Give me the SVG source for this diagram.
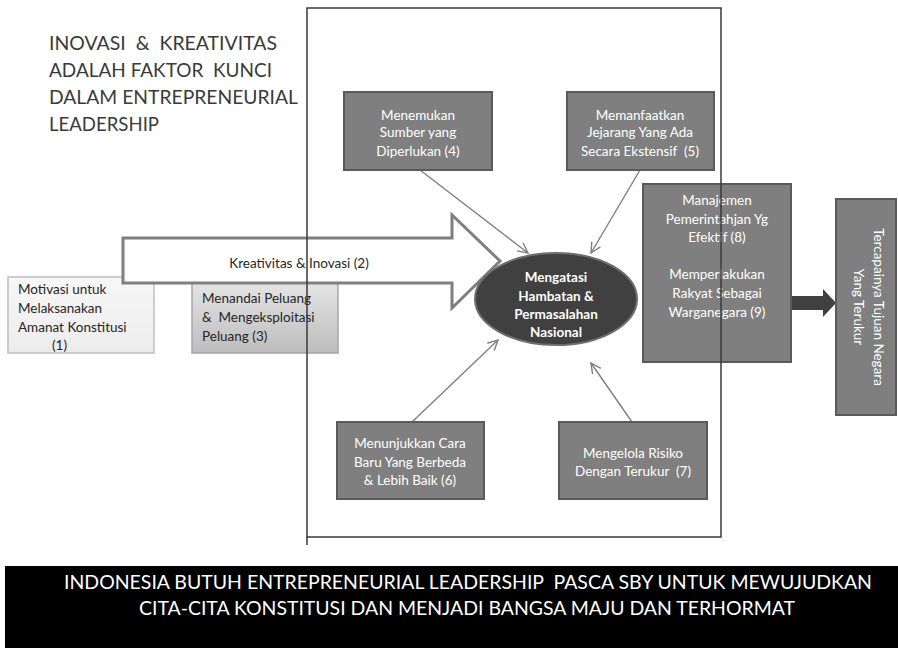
<svg xmlns="http://www.w3.org/2000/svg" width="898" height="648" viewBox="0 0 898 648">
  <defs>
    <style>
      .t { font-family: Lato, "Open Sans", "Liberation Sans", sans-serif; }
      .title { font-size: 19.5px; fill: #3a3a3a; }
      .w { font-size: 13.5px; fill: #ffffff; text-anchor: middle; }
      .wb { font-size: 13.5px; fill: #ffffff; text-anchor: middle; font-weight: bold; }
      .d { font-size: 13.5px; fill: #262626; }
      .dark { fill: #7f7f7f; stroke: #5a5a5a; stroke-width: 2; }
      .conn { stroke: #7f7f7f; stroke-width: 1.4; fill: none; marker-end: url(#open); }
      .banner { font-size: 19.5px; fill: #ffffff; text-anchor: middle; }
    </style>
    <marker id="open" markerUnits="userSpaceOnUse" markerWidth="14" markerHeight="14" refX="11" refY="6" orient="auto">
      <path d="M1,1 L11,6 L1,11" fill="none" stroke="#7f7f7f" stroke-width="1.4"/>
    </marker>
    <linearGradient id="g1" x1="0" y1="0" x2="0" y2="1">
      <stop offset="0" stop-color="#f7f7f7"/>
      <stop offset="1" stop-color="#ececec"/>
    </linearGradient>
    <linearGradient id="g3" x1="0" y1="0" x2="0" y2="1">
      <stop offset="0" stop-color="#e6e6e6"/>
      <stop offset="1" stop-color="#bdbdbd"/>
    </linearGradient>
  </defs>

  <rect width="898" height="648" fill="#ffffff"/>

  <!-- heading at top left -->
  <g id="title" class="t title">
    <text xml:space="preserve" x="49" y="50" textLength="228" lengthAdjust="spacingAndGlyphs">INOVASI  &amp;  KREATIVITAS</text>
    <text xml:space="preserve" x="49" y="77" textLength="223" lengthAdjust="spacingAndGlyphs">ADALAH FAKTOR  KUNCI</text>
    <text x="49" y="104" textLength="249" lengthAdjust="spacingAndGlyphs">DALAM ENTREPRENEURIAL</text>
    <text x="49" y="131" textLength="110" lengthAdjust="spacingAndGlyphs">LEADERSHIP</text>
  </g>

  <!-- (1) motivation -->
  <g id="n1">
    <rect x="8" y="277" width="146" height="76" fill="url(#g1)" stroke="#bfbfbf" stroke-width="1.5"/>
    <g class="t d">
      <text x="18" y="294">Motivasi untuk</text>
      <text x="18" y="313">Melaksanakan</text>
      <text x="18" y="332">Amanat Konstitusi</text>
      <text x="52" y="350">(1)</text>
    </g>
  </g>

  <!-- (3) opportunities -->
  <g id="n3">
    <rect x="192" y="280" width="146" height="73" fill="url(#g3)" stroke="#a6a6a6" stroke-width="1.5"/>
    <g class="t d">
      <text x="202" y="303">Menandai Peluang</text>
      <text xml:space="preserve" x="202" y="322">&amp;  Mengeksploitasi</text>
      <text x="202" y="341">Peluang (3)</text>
    </g>
  </g>

  <!-- (2) block arrow -->
  <g id="n2">
    <polygon points="123,238 452,238 452,215 500,261 452,308 452,283 123,283" fill="#ffffff" stroke="#7f7f7f" stroke-width="3" stroke-linejoin="miter"/>
    <text class="t" x="299" y="268" font-size="13.5" fill="#262626" text-anchor="middle">Kreativitas &amp; Inovasi (2)</text>
  </g>

  <!-- connectors -->
  <g id="connectors">
    <line class="conn" x1="420" y1="170" x2="528" y2="253"/>
    <line class="conn" x1="640" y1="170" x2="591" y2="253"/>
    <line class="conn" x1="412" y1="422" x2="498" y2="340"/>
    <line class="conn" x1="632" y1="422" x2="591" y2="363"/>
    <polygon points="791,296 823,296 823,289 836,303 823,317 823,310 791,310" fill="#404040"/>
  </g>

  <!-- (4) -->
  <g id="n4">
    <rect class="dark" x="344" y="92" width="148" height="78"/>
    <g class="t w">
      <text x="418" y="120">Menemukan</text>
      <text x="418" y="137">Sumber yang</text>
      <text x="418" y="156">Diperlukan (4)</text>
    </g>
  </g>

  <!-- (5) -->
  <g id="n5">
    <rect class="dark" x="567" y="92" width="147" height="78"/>
    <g class="t w">
      <text x="640" y="120">Memanfaatkan</text>
      <text x="640" y="137">Jejarang Yang Ada</text>
      <text xml:space="preserve" x="640" y="156">Secara Ekstensif  (5)</text>
    </g>
  </g>

  <!-- centre ellipse -->
  <g id="core">
    <ellipse cx="556" cy="299" rx="81" ry="46" fill="#404040" stroke="#6e6e6e" stroke-width="2"/>
    <g class="t wb">
      <text x="556" y="282">Mengatasi</text>
      <text x="556" y="301">Hambatan &amp;</text>
      <text x="556" y="319">Permasalahan</text>
      <text x="556" y="337">Nasional</text>
    </g>
  </g>

  <!-- (8) and (9) -->
  <g id="n8">
    <rect class="dark" x="643" y="184" width="148" height="178"/>
    <g class="t w">
      <text x="717" y="205">Manajemen</text>
      <text x="717" y="224">Pemerintahjan Yg</text>
      <text x="717" y="242">Efektif (8)</text>
      <text x="717" y="279">Memperlakukan</text>
      <text x="717" y="298">Rakyat Sebagai</text>
      <text x="717" y="317">Warganegara (9)</text>
    </g>
  </g>

  <!-- goal -->
  <g id="goal">
    <rect class="dark" x="836" y="199" width="60" height="216"/>
    <g class="t w">
      <text transform="translate(879,307) rotate(90)" x="0" y="5">Tercapainya Tujuan Negara</text>
      <text transform="translate(859,307) rotate(90)" x="0" y="5">Yang Terukur</text>
    </g>
  </g>

  <!-- (6) -->
  <g id="n6">
    <rect class="dark" x="337" y="422" width="147" height="77"/>
    <g class="t w">
      <text x="410" y="448">Menunjukkan Cara</text>
      <text x="410" y="467">Baru Yang Berbeda</text>
      <text x="410" y="485">&amp; Lebih Baik (6)</text>
    </g>
  </g>

  <!-- (7) -->
  <g id="n7">
    <rect class="dark" x="559" y="422" width="148" height="77"/>
    <g class="t w">
      <text x="633" y="458">Mengelola Risiko</text>
      <text xml:space="preserve" x="633" y="476">Dengan Terukur  (7)</text>
    </g>
  </g>

  <!-- outer frame, drawn over the content -->
  <g id="frame" fill="none" stroke="#3a3a3a" stroke-width="1.5">
    <rect x="307" y="8" width="414" height="529"/>
    <line x1="307" y1="537" x2="307" y2="545"/>
  </g>

  <!-- closing banner -->
  <g id="banner">
    <rect x="5" y="566" width="893" height="82" fill="#000000"/>
    <g class="t banner">
      <text xml:space="preserve" x="468" y="589" textLength="808" lengthAdjust="spacingAndGlyphs">INDONESIA BUTUH ENTREPRENEURIAL LEADERSHIP  PASCA SBY UNTUK MEWUJUDKAN</text>
      <text x="467" y="615" textLength="656" lengthAdjust="spacingAndGlyphs">CITA-CITA KONSTITUSI DAN MENJADI BANGSA MAJU DAN TERHORMAT</text>
    </g>
  </g>
</svg>
